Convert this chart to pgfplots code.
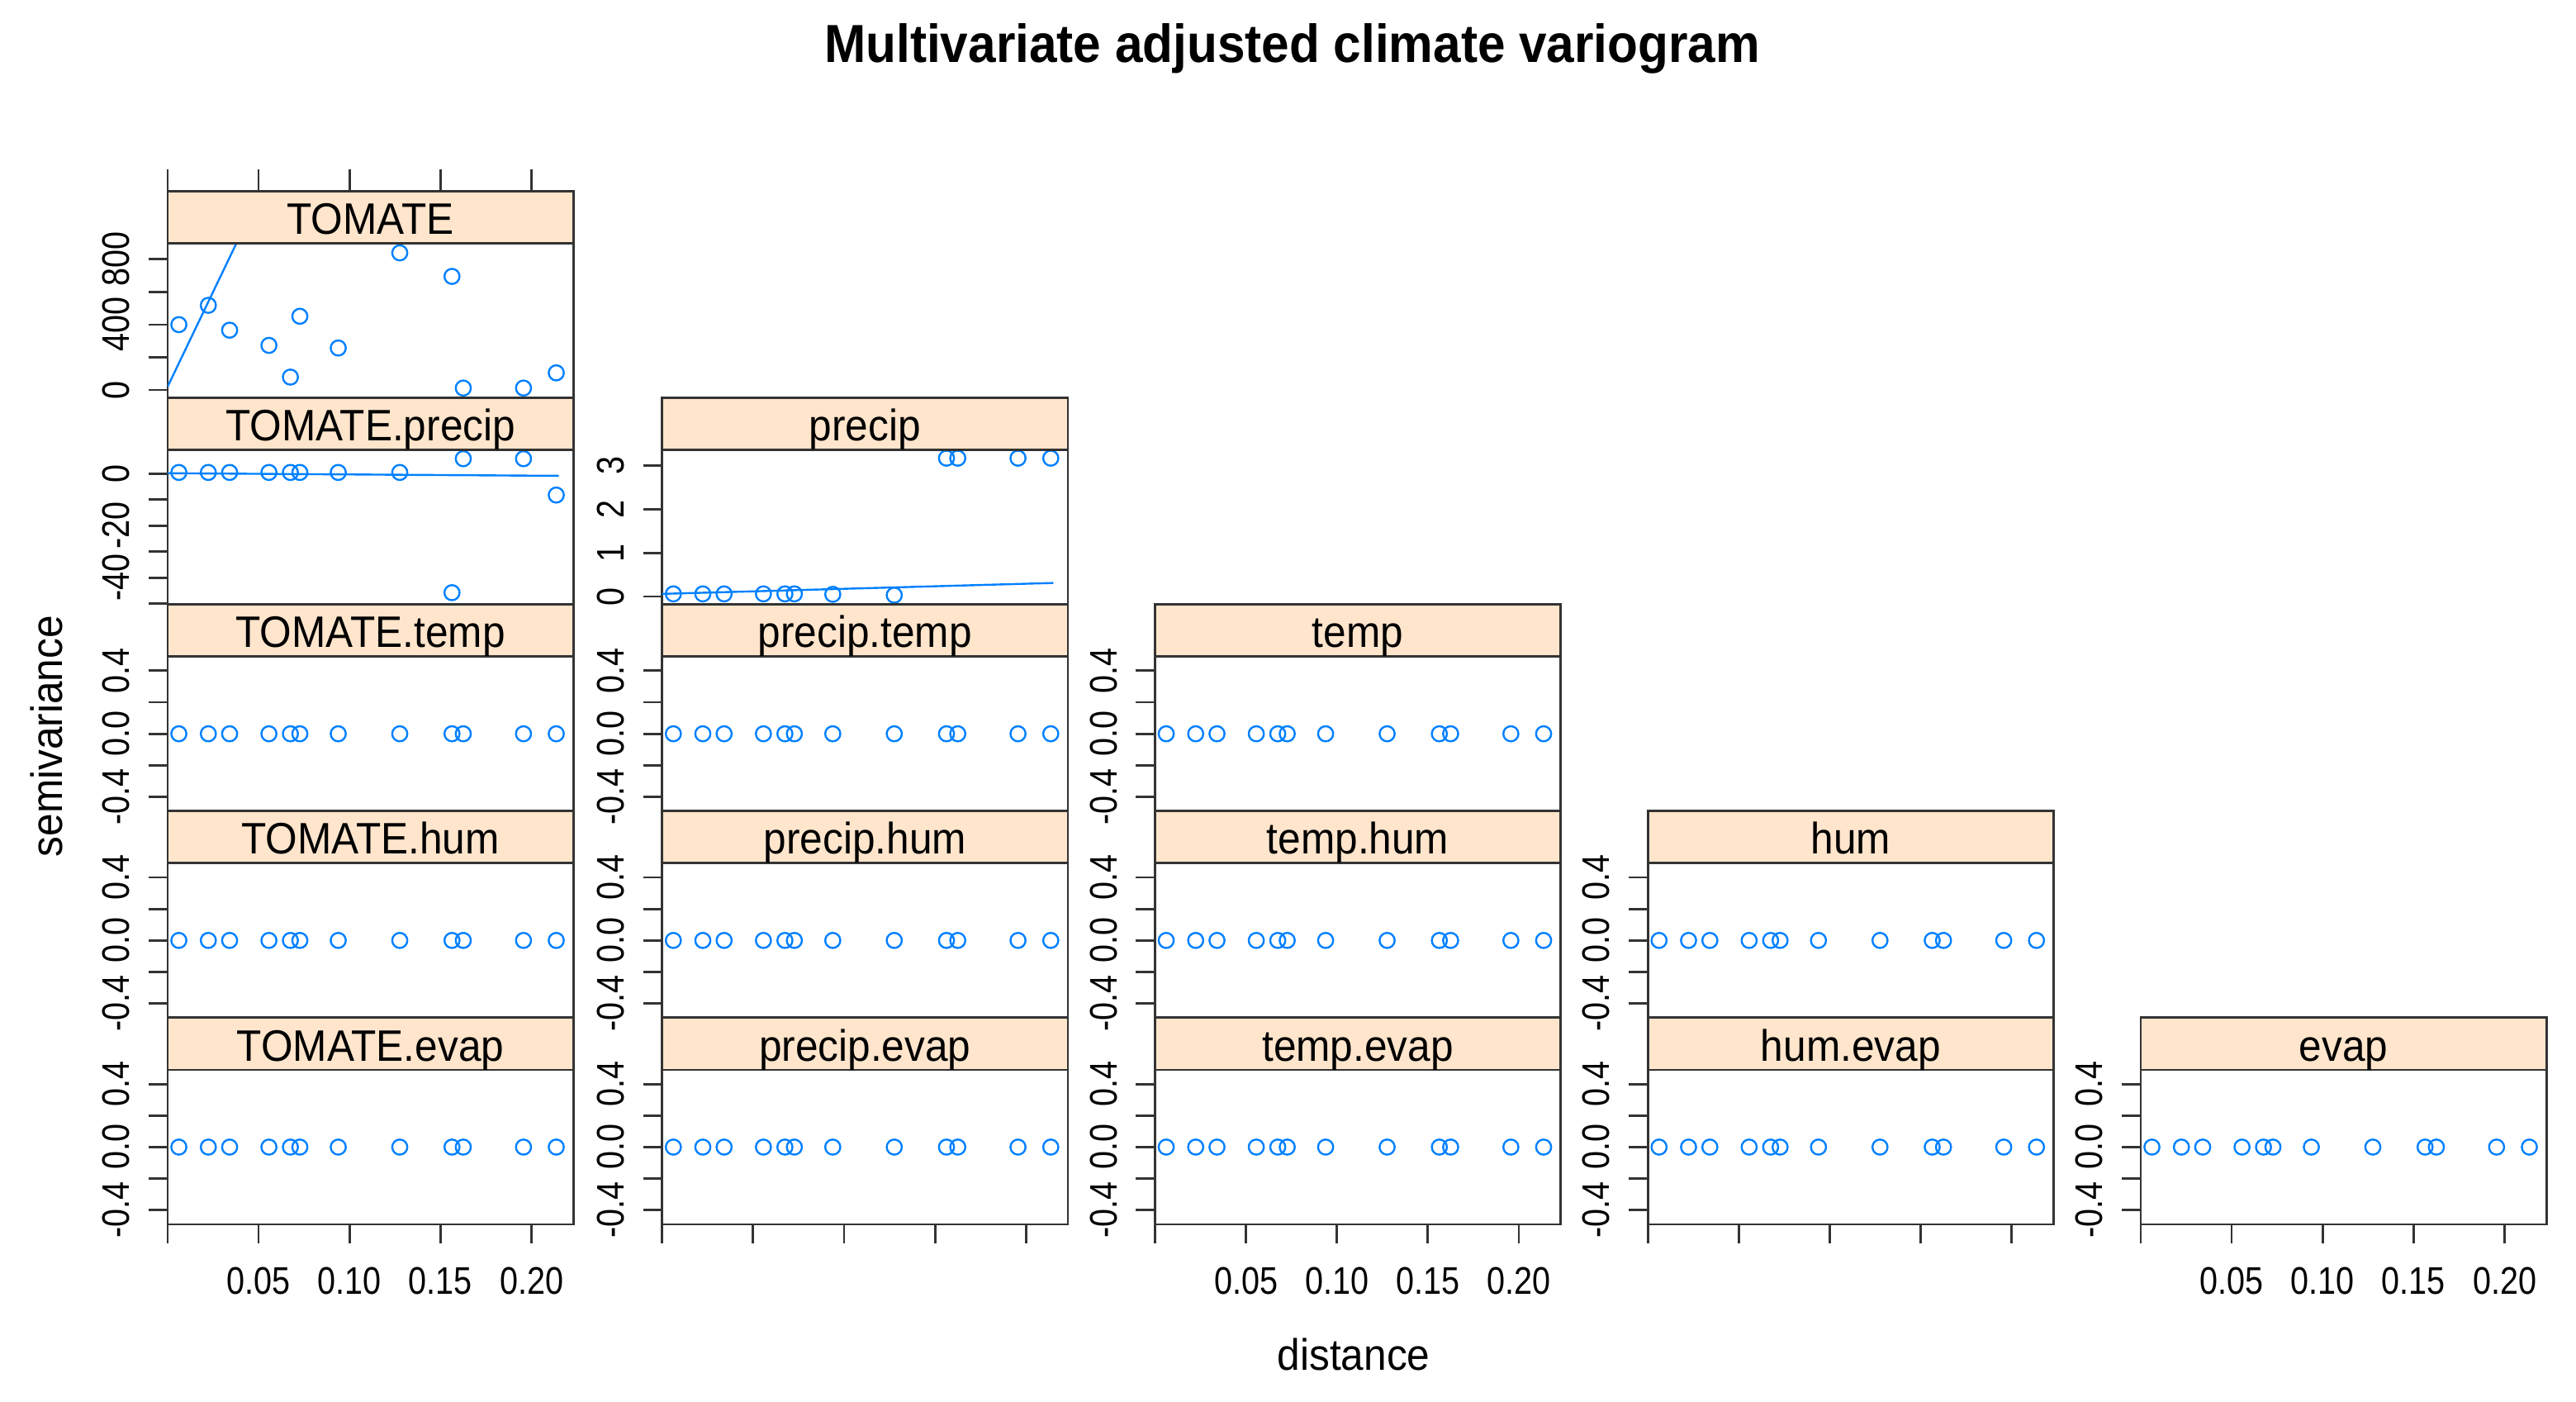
\documentclass[border=0pt]{standalone}
\usepackage{fontspec}
\setmainfont{Liberation Sans}
\newfontfamily\tickfont[FakeStretch=0.85]{Liberation Sans}
\newfontfamily\labfont[FakeStretch=0.93]{Liberation Sans}
\usepackage{pgfplots}
\usepackage{pgfplotstable}
\pgfplotsset{compat=1.18}
\definecolor{rblue}{HTML}{0080FF}
\definecolor{stripbg}{HTML}{FFE5CC}
\definecolor{frame}{HTML}{333333}

\pgfplotstableread{
d      tom  tp    pr    z
0.0062 400  0.5   0.06  0
0.0224 518  0.5   0.06  0
0.0341 366  0.5   0.06  0
0.0557 273  0.5   0.06  0
0.0675 79   0.5   0.06  0
0.0727 451  0.5   0.06  0
0.0938 257  0.5   0.05  0
0.1276 839  0.5   0.03  0
0.1563 695  -45.8 3.17  0
0.1625 12   5.8   3.17  0
0.1956 12   5.8   3.17  0
0.2136 105  -8.2  3.17  0
}\data

\pgfplotsset{
  panel/.style={
    scale only axis, width=123.5pt, height=47pt, anchor=south west,
    xmin=0, xmax=0.223,
    axis line style={draw=frame, line width=0.7pt},
    tick style={draw=frame, line width=0.7pt},
    tick align=outside, major tick length=5.8pt,
    xtick pos=lower, ytick pos=lower,
    xtick=\empty, minor tick num=0,
    yticklabel style={rotate=90, anchor=south, font=\tickfont\fontsize{11.7}{12}\selectfont, inner sep=0pt},
    xticklabel style={font=\tickfont\fontsize{11.7}{12}\selectfont, inner sep=0pt},
    yticklabel shift=5.5pt, xticklabel shift=7pt,
  },
  cross/.style={panel, ymin=-0.49, ymax=0.49, ytick={-0.4,-0.2,0,0.2,0.4}, yticklabels={-0.4,,0.0,,0.4}},
  botlab/.style={xtick={0,0.05,0.1,0.15,0.2}, xticklabels={,0.05,0.10,0.15,0.20}},
  botnolab/.style={xtick={0,0.05,0.1,0.15,0.2}, xticklabels={,,,,}},
  pts/.style={only marks, mark=o, mark size=2.3pt, color=rblue, mark options={line width=0.6pt}},
  mline/.style={rblue, line width=0.6pt, no markers},
}

\newcommand{\strip}[3]{%
  \draw[fill=stripbg, draw=frame, line width=0.7pt] (#1,#2) rectangle ++(123.5pt,15.875pt);
  \node[anchor=base, inner sep=0pt, font=\labfont\fontsize{13.4}{14}\selectfont] at (#1+61.75pt,#2+2.74pt) {#3};
}

\begin{document}
\begin{tikzpicture}
\useasboundingbox (0,0) rectangle (784pt,426.5pt);

% title and axis labels
\node[anchor=base, inner sep=0pt, font=\labfont\bfseries\fontsize{16.3}{18}\selectfont] at (393.3pt,407.6pt) {Multivariate adjusted climate variogram};
\node[anchor=base, inner sep=0pt, font=\labfont\fontsize{13.4}{14}\selectfont] at (412pt,9.7pt) {distance};
\node[anchor=base, rotate=90, inner sep=0pt, font=\labfont\fontsize{13.4}{14}\selectfont] at (18.9pt,202.5pt) {semivariance};

% ---- row 1
\begin{axis}[at={(51pt,352.5pt)}, anchor=south west, scale only axis, width=123.5pt, height=15.875pt,
  xmin=0, xmax=0.223, ymin=0, ymax=1, xtick={0,0.05,0.1,0.15,0.2}, xticklabels={,,,,},
  xtick pos=upper, ytick=\empty, tick align=outside, major tick length=6.5pt,
  axis line style={draw=frame, line width=0.7pt}, tick style={draw=frame, line width=0.7pt}]
  \addplot[draw=none] coordinates {(0.1,0.5)};
\end{axis}
\begin{axis}[panel, at={(51pt,305.5pt)}, ymin=-47, ymax=898, ytick={0,200,400,600,800}, yticklabels={0,,400,,800}]
  \addplot[mline] coordinates {(0,20) (0.06,1412)};
  \addplot[pts] table[x=d,y=tom]{\data};
\end{axis}

% ---- row 2
\begin{axis}[panel, at={(51pt,242.625pt)}, ymin=-50.3, ymax=9.2, ytick={-50,-40,-30,-20,-10,0}, yticklabels={,-40,,-20,,0}]
  \addplot[mline] coordinates {(0,0.2) (0.215,-0.8)};
  \addplot[pts] table[x=d,y=tp]{\data};
\end{axis}
\begin{axis}[panel, at={(201.5pt,242.625pt)}, ymin=-0.18, ymax=3.36, ytick={0,1,2,3}, yticklabels={0,1,2,3}]
  \addplot[mline] coordinates {(0,0.06) (0.215,0.31)};
  \addplot[pts] table[x=d,y=pr]{\data};
\end{axis}

% ---- row 3
\begin{axis}[cross, at={(51pt,179.75pt)}]
  \addplot[pts] table[x=d,y=z]{\data};
\end{axis}
\begin{axis}[cross, at={(201.5pt,179.75pt)}]
  \addplot[pts] table[x=d,y=z]{\data};
\end{axis}
\begin{axis}[cross, at={(351.5pt,179.75pt)}]
  \addplot[pts] table[x=d,y=z]{\data};
\end{axis}

% ---- row 4
\begin{axis}[cross, at={(51pt,116.875pt)}]
  \addplot[pts] table[x=d,y=z]{\data};
\end{axis}
\begin{axis}[cross, at={(201.5pt,116.875pt)}]
  \addplot[pts] table[x=d,y=z]{\data};
\end{axis}
\begin{axis}[cross, at={(351.5pt,116.875pt)}]
  \addplot[pts] table[x=d,y=z]{\data};
\end{axis}
\begin{axis}[cross, at={(501.5pt,116.875pt)}]
  \addplot[pts] table[x=d,y=z]{\data};
\end{axis}

% ---- row 5
\begin{axis}[cross, botlab, at={(51pt,54pt)}]
  \addplot[pts] table[x=d,y=z]{\data};
\end{axis}
\begin{axis}[cross, botnolab, at={(201.5pt,54pt)}]
  \addplot[pts] table[x=d,y=z]{\data};
\end{axis}
\begin{axis}[cross, botlab, at={(351.5pt,54pt)}]
  \addplot[pts] table[x=d,y=z]{\data};
\end{axis}
\begin{axis}[cross, botnolab, at={(501.5pt,54pt)}]
  \addplot[pts] table[x=d,y=z]{\data};
\end{axis}
\begin{axis}[cross, botlab, at={(651.5pt,54pt)}]
  \addplot[pts] table[x=d,y=z]{\data};
\end{axis}

% ---- strips
\strip{51pt}{352.5pt}{TOMATE}
\strip{51pt}{289.625pt}{TOMATE.precip}
\strip{201.5pt}{289.625pt}{precip}
\strip{51pt}{226.75pt}{TOMATE.temp}
\strip{201.5pt}{226.75pt}{precip.temp}
\strip{351.5pt}{226.75pt}{temp}
\strip{51pt}{163.875pt}{TOMATE.hum}
\strip{201.5pt}{163.875pt}{precip.hum}
\strip{351.5pt}{163.875pt}{temp.hum}
\strip{501.5pt}{163.875pt}{hum}
\strip{51pt}{101pt}{TOMATE.evap}
\strip{201.5pt}{101pt}{precip.evap}
\strip{351.5pt}{101pt}{temp.evap}
\strip{501.5pt}{101pt}{hum.evap}
\strip{651.5pt}{101pt}{evap}
\end{tikzpicture}
\end{document}
